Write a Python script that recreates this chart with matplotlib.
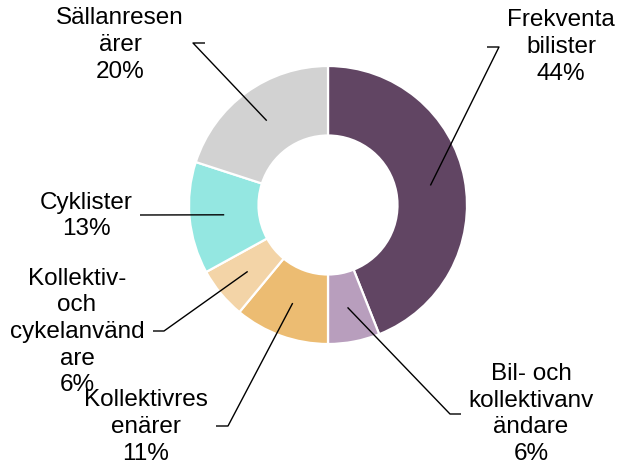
import numpy as np
import matplotlib
matplotlib.use('Agg')
import matplotlib.pyplot as plt

# data (clockwise from 12 o'clock)
segments = ['Frekventa\nbilister', 'Bil- och\nkollektivanv\nändare', 'Kollektivres\nenärer',
            'Kollektiv-\noch\ncykelanvänd\nare', 'Cyklister', 'Sällanresen\närer']
shares = [44, 6, 11, 6, 13, 20]
colors = ['#614563', '#b89ebd', '#ecbc72', '#f3d4a7', '#94e7e1', '#d2d2d2']

W, H = 617, 465
cx, cy, R = 328, H - 205, 139

fig = plt.figure(figsize=(W / 100, H / 100), dpi=100)
ax = fig.add_axes([0, 0, 1, 1])
plt.rcParams['font.family'] = ['Liberation Sans', 'DejaVu Sans']

wedges, _ = ax.pie(shares, colors=colors, startangle=90, counterclock=False,
                   center=(cx, cy), radius=R,
                   wedgeprops=dict(width=R * 0.5, edgecolor='white', linewidth=1.6))
ax.set_xlim(0, W)
ax.set_ylim(0, H)
ax.set_aspect('auto')
ax.axis('off')

# label text centre, elbow point, end of horizontal stub (pixels from top-left)
layout = [
    ((561, 47), (499, 47), (487, 47)),
    ((531, 414), (450, 414), (461, 414)),
    ((146, 427), (228, 426), (216, 426)),
    ((77, 332), (164, 331), (153, 331)),
    ((86, 216), (140, 215), (140, 215)),
    ((120, 45), (193, 43), (205, 43)),
]

for w, name, val, (txt, elb, stub) in zip(wedges, segments, shares, layout):
    mid = np.deg2rad((w.theta1 + w.theta2) / 2)
    r = R * 0.75
    ax_, ay_ = cx + r * np.cos(mid), cy + r * np.sin(mid)
    ax.plot([ax_, elb[0], stub[0]], [ay_, H - elb[1], H - stub[1]],
            color='black', lw=1.0, solid_capstyle='butt')
    ax.text(txt[0], H - txt[1], f'{name}\n{val}%', ha='center', va='center',
            fontsize=17.5, linespacing=1.27, color='black')

fig.savefig('out.png', dpi=100)
